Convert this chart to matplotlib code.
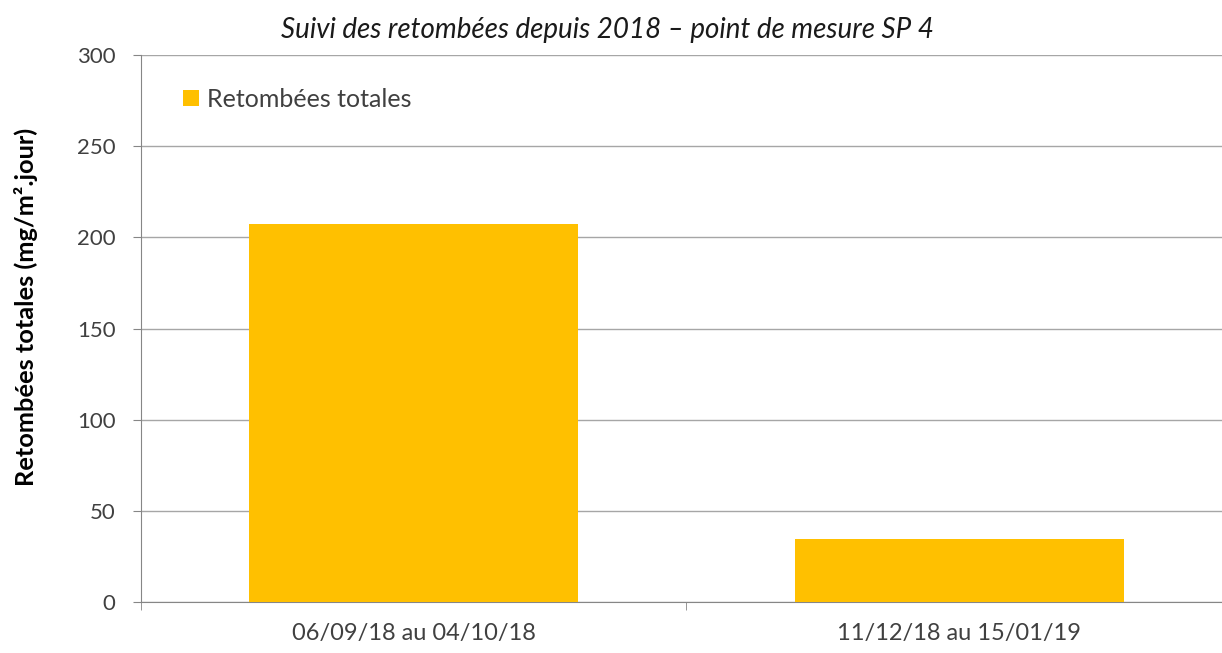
import matplotlib
matplotlib.use("Agg")
import matplotlib.pyplot as plt
import numpy as np

categories = ["06/09/18 au 04/10/18", "11/12/18 au 15/01/19"]
values = [207.4, 34.4]
series_name = "Retombées totales"
title = "Suivi des retombées depuis 2018 – point de mesure SP 4"
ylabel = "Retombées totales (mg/m².jour)"
yticks = [0, 50, 100, 150, 200, 250, 300]

plt.rcParams['font.family'] = ['Lato', 'DejaVu Sans']

fig = plt.figure(figsize=(12.22, 6.53), dpi=100)
ax = fig.add_axes([140.5/1222, 1-602/653, 1092/1222, (602-55)/653])

x = np.arange(len(categories))
ax.bar(x, values, width=0.603, color="#FFC000", label=series_name, zorder=3)

ax.set_xlim(-0.5, len(categories)-0.5)
ax.set_ylim(0, 300)
ax.set_yticks(yticks)
ax.set_yticklabels([str(v) for v in yticks], fontsize=16, color="#404040")
ax.set_xticks(x)
ax.set_xticklabels(categories, fontsize=17, color="#404040")
ax.tick_params(axis='x', length=0, pad=15)
ax.tick_params(axis='y', length=6, color="#868686", pad=12)
ax.set_xticks([-0.5, 0.5, 1.5], minor=True)
ax.tick_params(axis='x', which='minor', length=6, color="#868686")

ax.grid(axis='y', color="#A6A6A6", linewidth=1, zorder=0)
for s in ["top", "right"]:
    ax.spines[s].set_visible(False)
ax.spines["left"].set_color("#868686")
ax.spines["bottom"].set_color("#868686")

ax.set_title(title, fontsize=20, style='italic', color="#1a1a1a", pad=12, x=0.428)
ax.set_ylabel(ylabel, fontsize=18.3, fontweight='bold', color="black")
ax.yaxis.set_label_coords(-0.094, 0.54)

ax.legend(loc='upper left', bbox_to_anchor=(0.023, 0.972), frameon=False, fontsize=18,
          handlelength=0.65, handleheight=0.65, handletextpad=0.3, labelcolor="#404040",
          borderaxespad=0.3)

fig.savefig("out.png", dpi=100)
